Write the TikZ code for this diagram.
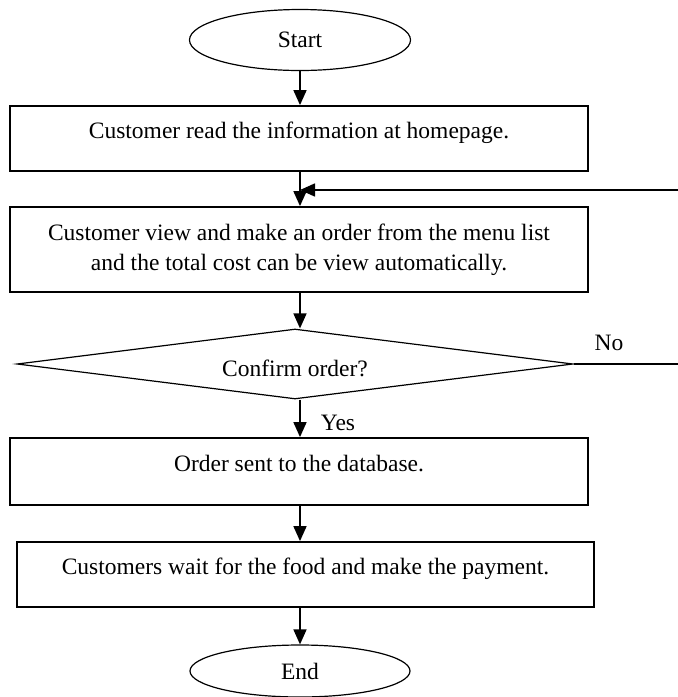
\documentclass[tikz,border=0pt]{standalone}
\usepackage{fontspec}
\setmainfont{Liberation Serif}
\usetikzlibrary{shapes.geometric,arrows.meta}
\begin{document}
\begin{tikzpicture}[x=1pt,y=1pt,
  every node/.style={font=\fontsize{23.5}{30}\selectfont},
  line/.style={line width=1.6pt},
  arr/.style={line width=1.6pt,-{Triangle[length=15pt,width=13pt]}},
  box/.style={draw,line width=1.8pt,rectangle,inner sep=0pt,align=center},
  lift/.style={text height=16pt,text depth=16pt},
  term/.style={draw,ellipse,line width=1.2pt,inner sep=0pt},
  dec/.style={draw,diamond,aspect=8,line width=1.2pt,inner sep=0pt,text height=29pt,text depth=5pt}]
\useasboundingbox (0,0) rectangle (678,-697);
\node[term,minimum width=221pt,minimum height=61pt] (start) at (300,-40) {Start};
\node[box,lift,minimum width=578pt,minimum height=65pt] (b1) at (299,-138.5) {Customer read the information at homepage.};
\node[box,minimum width=578pt,minimum height=85pt] (b2) at (299,-249.5) {Customer view and make an order from the menu list\\and the total cost can be view automatically.};
\node[dec,minimum width=556pt,minimum height=70pt] (dec) at (295,-364) {Confirm order?};
\node[box,lift,minimum width=578pt,minimum height=67pt] (b3) at (299,-471.5) {Order sent to the database.};
\node[box,lift,minimum width=577pt,minimum height=65pt] (b4) at (305.5,-574.5) {Customers wait for the food and make the payment.};
\node[term,minimum width=220pt,minimum height=52pt] (end) at (300,-671) {End};
\node (no) at (609,-343) {No};
\node (yes) at (338,-423) {Yes};
\coordinate (fbR) at (678,-190);
\coordinate (join) at (300,-190);
\coordinate (noR) at (678,-364);
\draw[arr] (start.south -| join) -- (join |- b1.north);
\draw[arr] (join |- b1.south) -- (join |- b2.north);
\draw[arr] (fbR) -- (join);
\draw[arr] (join |- b2.south) -- (join |- dec.north);
\draw[line] (dec.east) -- (noR);
\draw[arr] (join |- dec.south) -- (join |- b3.north);
\draw[arr] (join |- b3.south) -- (join |- b4.north);
\draw[arr] (join |- b4.south) -- (end.north);
\end{tikzpicture}
\end{document}
